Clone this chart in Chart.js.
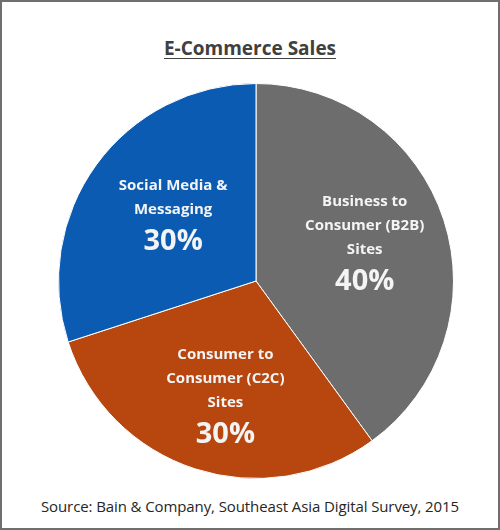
<!DOCTYPE html>
<html>
<head>
<meta charset="utf-8">
<script src="https://cdn.jsdelivr.net/npm/chart.js@4/dist/chart.umd.min.js"></script>
<style>
  html, body { margin: 0; padding: 0; background: #fff; }
  #frame {
    position: relative;
    width: 496px; height: 526px;
    border: 2px solid #6f6f6f;
    font-family: "Open Sans", sans-serif;
  }
  #title {
    position: absolute; left: 0; right: 0; top: 33px;
    text-align: center; font-size: 19px; font-weight: bold;
    color: #404040; text-decoration: underline;
    text-underline-offset: 3px;
  }
  #source {
    position: absolute; left: 0; right: 0; top: 494px;
    text-align: center; font-size: 15px; color: #262626;
    letter-spacing: -0.1px;
  }
  #wrap { position: absolute; left: 56px; top: 81px; width: 396px; height: 396px; }
</style>
</head>
<body>
<div id="frame">
  <div id="title">E-Commerce Sales</div>
  <div id="wrap"><canvas id="pie"></canvas></div>
  <div id="source">Source: Bain &amp; Company, Southeast Asia Digital Survey, 2015</div>
</div>
<script>
const categories = [
  ["Business to", "Consumer (B2B)", "Sites"],
  ["Consumer to", "Consumer (C2C)", "Sites"],
  ["Social Media &", "Messaging"]
];
const shares = [40, 30, 30];
const sliceColors = ['#6d6d6d', '#b8460f', '#0c5bb3'];

// draws the name + percent inside each slice
const sliceLabels = {
  id: 'sliceLabels',
  afterDatasetsDraw(chart, args, opts) {
    const ctx = chart.ctx;
    const meta = chart.getDatasetMeta(0);
    meta.data.forEach((arc, i) => {
      const p = arc.getProps(['x', 'y', 'startAngle', 'endAngle', 'outerRadius']);
      const mid = (p.startAngle + p.endAngle) / 2;
      const r = p.outerRadius * 0.6;
      const shift = opts.shift[i];
      const cx = p.x + Math.cos(mid) * r + shift[0];
      const cy = p.y + Math.sin(mid) * r + shift[1];
      const lines = categories[i];
      const lineH = 24;
      const total = lines.length * lineH + 34;
      let y = cy - total / 2 + lineH / 2;
      ctx.save();
      ctx.fillStyle = '#f4f4f4';
      ctx.textAlign = 'center';
      ctx.textBaseline = 'middle';
      ctx.font = 'bold 15px "Open Sans"';
      lines.forEach(t => { ctx.fillText(t, cx, y); y += lineH; });
      ctx.font = 'bold 29px "Open Sans"';
      ctx.fillText(shares[i] + '%', cx, y + 8);
      ctx.restore();
    });
  }
};

new Chart(document.getElementById('pie'), {
  type: 'pie',
  data: {
    labels: categories.map(c => c.join(' ')),
    datasets: [{
      data: shares,
      backgroundColor: sliceColors,
      borderColor: '#ffffff',
      borderWidth: 1
    }]
  },
  options: {
    responsive: true,
    maintainAspectRatio: false,
    animation: false,
    layout: { padding: 0 },
    plugins: {
      legend: { display: false },
      tooltip: { enabled: false },
      sliceLabels: { shift: [[-4, -2], [6, 2], [13, 3]] }
    }
  },
  plugins: [sliceLabels]
});
</script>
</body>
</html>
